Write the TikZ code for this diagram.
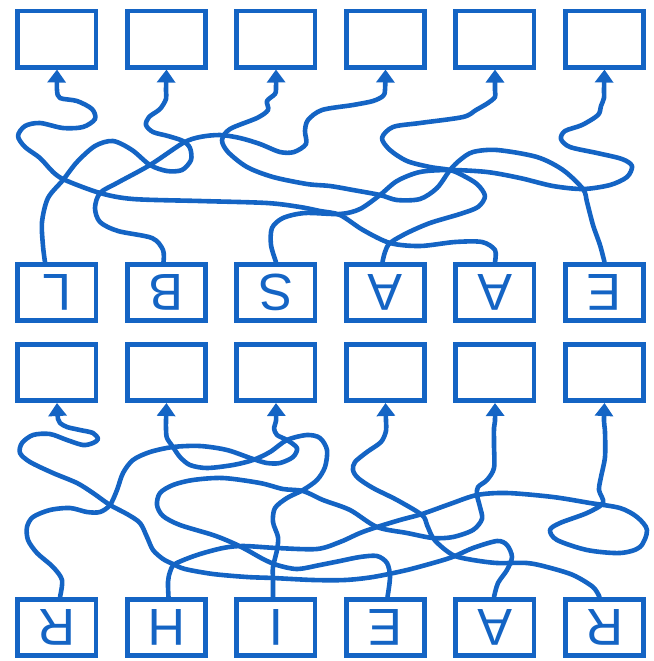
\documentclass[tikz,border=0pt]{standalone}
\usepackage{fontspec}
\usepackage{graphicx}
\setsansfont{Liberation Sans}
\usepackage{tikz}
\usetikzlibrary{arrows.meta,positioning}
\definecolor{inkblue}{RGB}{20,100,196}

\begin{document}
\begin{tikzpicture}[
      x=0.5pt, y=-0.5pt,
      node distance=13.25pt,
      card/.style={draw=inkblue, line width=2.4pt, minimum width=39.1pt, minimum height=28.1pt, inner sep=0pt, font=\sffamily\fontsize{26}{26}\selectfont, text=inkblue},
      wire/.style={draw=inkblue, line width=2.3pt, line cap=round, line join=round},
      up/.style={wire, -{Triangle[length=6.5pt, width=9pt]}}
    ]
      \useasboundingbox (0,0) rectangle (654,661);

      \node[card] (a1) at (57,39) {};
      \node[card, right=of a1] (a2) {};
      \node[card, right=of a2] (a3) {};
      \node[card, right=of a3] (a4) {};
      \node[card, right=of a4] (a5) {};
      \node[card, right=of a5] (a6) {};

      \node[card] (b1) at (57,292.5) {\rotatebox{180}{L}};
      \node[card, right=of b1] (b2) {\rotatebox{180}{B}};
      \node[card, right=of b2] (b3) {\rotatebox{180}{S}};
      \node[card, right=of b3] (b4) {\rotatebox{180}{A}};
      \node[card, right=of b4] (b5) {\rotatebox{180}{A}};
      \node[card, right=of b5] (b6) {\rotatebox{180}{E}};

      \node[card] (c1) at (57,372.5) {};
      \node[card, right=of c1] (c2) {};
      \node[card, right=of c2] (c3) {};
      \node[card, right=of c3] (c4) {};
      \node[card, right=of c4] (c5) {};
      \node[card, right=of c5] (c6) {};

      \node[card] (d1) at (57,627.5) {\rotatebox{180}{R}};
      \node[card, right=of d1] (d2) {\rotatebox{180}{H}};
      \node[card, right=of d2] (d3) {\rotatebox{180}{I}};
      \node[card, right=of d3] (d4) {\rotatebox{180}{E}};
      \node[card, right=of d4] (d5) {\rotatebox{180}{A}};
      \node[card, right=of d5] (d6) {\rotatebox{180}{R}};

      \draw[up] plot[smooth] coordinates {([xshift=-6pt]b1.north) (43,246) (42,222) (48,198) (63,180) (77,162) (95,146) (113,141) (132,150) (150,165) (167,171) (182,170) (191,160) (190,148) (183,141) (168,136) (153,132) (146,125) (149,117) (160,109) (166,99) (166,90) (a2.south)};
      \draw[up] plot[smooth] coordinates {([xshift=-1.5pt]b2.north) (163,250) (152,238) (118,231) (100,222) (95,208) (100,193) (117,183) (150,165) (183,143) (200,137) (220,135) (240,138) (260,144) (280,152) (294,152) (306,144) (305,131) (308,120) (322,110) (353,105) (373,101) (383,96) (385,90) (a4.south)};
      \draw[up] plot[smooth] coordinates {(b3.north) (271,245) (272,228) (283,218) (305,213) (340,214) (360,209) (380,195) (397,181) (420,172) (450,170) (487,172) (520,178) (553,186) (583,189) (610,185) (627,177) (632,166) (622,159) (597,153) (570,147) (561,139) (565,131) (582,125) (598,115) (601,106) (604,98) (604,90) (a6.south)};
      \draw[up] plot[smooth] coordinates {([xshift=-1.5pt]b4.north) (385,252) (390,243) (407,233) (430,223) (460,214) (478,207) (485,196) (477,184) (462,175) (450,170) (430,167) (407,161) (390,150) (382,138) (393,127) (420,123) (463,117) (476,110) (488,103) (495,97) (495,90) (a5.south)};
      \draw[up] plot[smooth] coordinates {(b5.north) (495,250) (482,242) (455,242) (420,246) (390,243) (363,230) (340,215) (320,211) (300,207) (267,203) (200,201) (133,199) (100,193) (65,180) (53,172) (40,158) (25,147) (18,136) (25,126) (40,123) (63,128) (83,127) (95,119) (92,109) (77,101) (60,98) (57,90) (a1.south)};
      \draw[up] plot[smooth] coordinates {(b6.north) (600,245) (593,225) (587,202) (583,189) (563,170) (537,157) (497,150) (473,152) (460,160) (450,170) (437,188) (420,199) (397,200) (380,195) (353,190) (330,186) (307,184) (273,177) (247,167) (228,152) (222,140) (230,129) (257,118) (268,110) (267,101) (275,94) (276,88) (a3.south)};

      \draw[up] plot[smooth] coordinates {([xshift=1.5pt]d1.north) (62,580) (53,567) (37,553) (28,540) (27,527) (33,517) (50,510) (70,508) (87,512) (100,512) (110,505) (117,490) (123,473) (133,460) (150,452) (173,447) (200,446) (227,450) (253,459) (267,463) (280,463) (293,457) (297,448) (287,440) (277,435) (274,428) (276,421) (c3.south)};
      \draw[up] plot[smooth] coordinates {([xshift=-0.5pt]d5.north) (498,583) (507,570) (512,557) (507,545) (497,541) (473,548) (455,556) (440,561) (407,570) (373,577) (345,580) (313,580) (273,578) (247,577) (213,574) (185,569) (173,564) (163,559) (153,550) (147,537) (140,523) (127,514) (110,505) (93,493) (77,483) (53,473) (30,462) (20,453) (22,443) (33,435) (50,434) (67,440) (83,445) (93,443) (98,439) (93,433) (80,430) (67,427) (60,423) (58,419) (c1.south)};
      \draw[up] plot[smooth] coordinates {([xshift=-1.5pt]d3.north) (273,580) (273,567) (277,550) (278,537) (273,522) (275,508) (287,498) (303,490) (317,480) (325,467) (327,450) (320,438) (307,435) (287,440) (270,452) (253,460) (233,465) (207,468) (190,465) (180,457) (173,447) (167,438) (166,429) (166,421) (c2.south)};
      \draw[up] plot[smooth] coordinates {([xshift=1pt]d4.north) (390,577) (387,563) (377,556) (360,557) (340,561) (320,565) (297,569) (277,565) (263,559) (247,550) (233,543) (213,535) (180,525) (163,516) (157,505) (160,493) (173,485) (193,480) (223,478) (260,483) (283,489) (303,491) (323,500) (350,510) (377,527) (407,533) (433,538) (453,537) (473,530) (482,519) (480,507) (477,495) (478,487) (487,480) (494,468) (494,445) (494,428) (495,421) (c5.south)};
      \draw[up] plot[smooth] coordinates {([xshift=1pt]d2.north) (168,582) (170,572) (175,564) (197,555) (223,548) (243,546) (277,548) (317,549) (340,542) (360,533) (377,527) (400,520) (422,514) (450,504) (477,495) (507,493) (553,497) (590,503) (620,508) (637,517) (647,530) (640,547) (620,553) (587,550) (557,540) (550,530) (560,523) (587,513) (603,503) (599,490) (601,477) (605,457) (605,432) (604,421) (c6.south)};
      \draw[up] plot[smooth] coordinates {([xshift=-2.5pt]d6.north) (593,587) (573,575) (547,567) (527,563) (497,563) (473,560) (455,556) (443,548) (433,538) (427,525) (422,515) (397,500) (373,488) (358,478) (353,470) (355,462) (367,452) (381,442) (386,431) (386,421) (c4.south)};
    \end{tikzpicture}
\end{document}
